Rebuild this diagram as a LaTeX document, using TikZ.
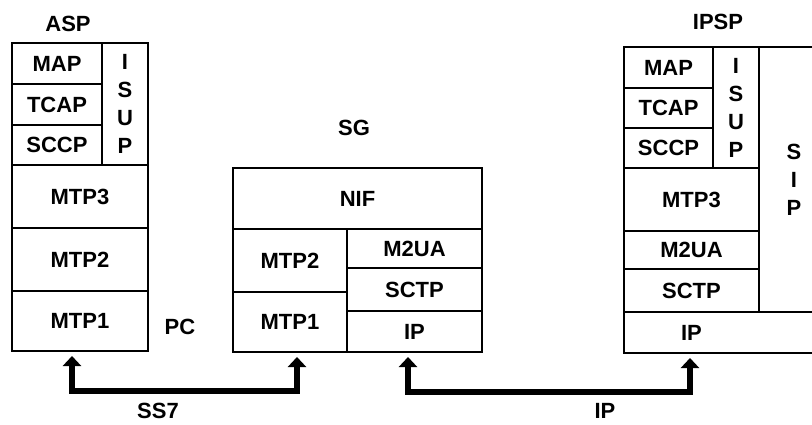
\documentclass[tikz,border=0pt]{standalone}
\usepackage{fontspec}
\setmainfont{Liberation Sans}
\usetikzlibrary{arrows.meta, positioning, calc}

\begin{document}
\begin{tikzpicture}[
  x=1pt, y=-1pt,
  every node/.style={font=\fontsize{22}{28}\selectfont\bfseries},
  cell/.style={draw, line width=2.5pt, inner sep=0pt, outer sep=0pt,
               anchor=north west, align=center},
  link/.style={line width=6pt,
               {Triangle[width=18pt,length=10pt]}-{Triangle[width=18pt,length=10pt]}}
]
\useasboundingbox (0,0) rectangle (812,425);
\clip (0,0) rectangle (812,425);

% ASP stack
\node (asp) at (68,24) {ASP};
\node[cell, minimum width=90pt, minimum height=41pt] (aspmap) at (12,43) {MAP};
\node[cell, minimum width=90pt, minimum height=41pt] (asptcap) at (aspmap.south west) {TCAP};
\node[cell, minimum width=90pt, minimum height=40pt] (aspsccp) at (asptcap.south west) {SCCP};
\node[cell, minimum width=46pt, minimum height=122pt] (aspisup) at (aspmap.north east) {I\\S\\U\\P};
\node[cell, minimum width=136pt, minimum height=63pt] (aspmtp3) at (aspsccp.south west) {MTP3};
\node[cell, minimum width=136pt, minimum height=63pt] (aspmtp2) at (aspmtp3.south west) {MTP2};
\node[cell, minimum width=136pt, minimum height=60pt] (aspmtp1) at (aspmtp2.south west) {MTP1};
\node (pc) at (180,327) {PC};

% SG stack
\node (sg) at (354,128) {SG};
\node[cell, minimum width=249pt, minimum height=61pt] (sgnif) at (233,168) {NIF};
\node[cell, minimum width=114pt, minimum height=63pt] (sgmtp2) at (sgnif.south west) {MTP2};
\node[cell, minimum width=114pt, minimum height=60pt] (sgmtp1) at (sgmtp2.south west) {MTP1};
\node[cell, minimum width=135pt, minimum height=39pt] (sgm2ua) at (sgmtp2.north east) {M2UA};
\node[cell, minimum width=135pt, minimum height=43pt] (sgsctp) at (sgm2ua.south west) {SCTP};
\node[cell, minimum width=135pt, minimum height=41pt] (sgip) at (sgsctp.south west) {IP};

% IPSP stack
\node (ipsp) at (718,22) {IPSP};
\node[cell, minimum width=89pt, minimum height=41pt] (ipmap) at (624,47) {MAP};
\node[cell, minimum width=89pt, minimum height=40pt] (iptcap) at (ipmap.south west) {TCAP};
\node[cell, minimum width=89pt, minimum height=40pt] (ipsccp) at (iptcap.south west) {SCCP};
\node[cell, minimum width=46pt, minimum height=121pt] (ipisup) at (ipmap.north east) {I\\S\\U\\P};
\node[cell, minimum width=70pt, minimum height=265pt] (ipsip) at (ipisup.north east) {S\\I\\P};
\node[cell, minimum width=135pt, minimum height=63pt] (ipmtp3) at (ipsccp.south west) {MTP3};
\node[cell, minimum width=135pt, minimum height=38pt] (ipm2ua) at (ipmtp3.south west) {M2UA};
\node[cell, minimum width=135pt, minimum height=43pt] (ipsctp) at (ipm2ua.south west) {SCTP};
\node[cell, minimum width=205pt, minimum height=41pt] (ipip) at (ipsctp.south west) {};
\node (ipiptext) at (ipsctp.center |- ipip.center) {IP};

% links
\draw[link] ([xshift=-8pt,yshift=-5pt]aspmtp1.south) -- ++(0,35)
  -| ([xshift=7pt,yshift=-5pt]sgmtp1.south);
\draw[link] ([xshift=-6.5pt,yshift=-5pt]sgip.south) -- ++(0,35)
  -| ($(ipip.south west)+(66,5)$);
\node (ss7) at (158,411) {SS7};
\node (iplink) at (605,411) {IP};
\end{tikzpicture}
\end{document}
